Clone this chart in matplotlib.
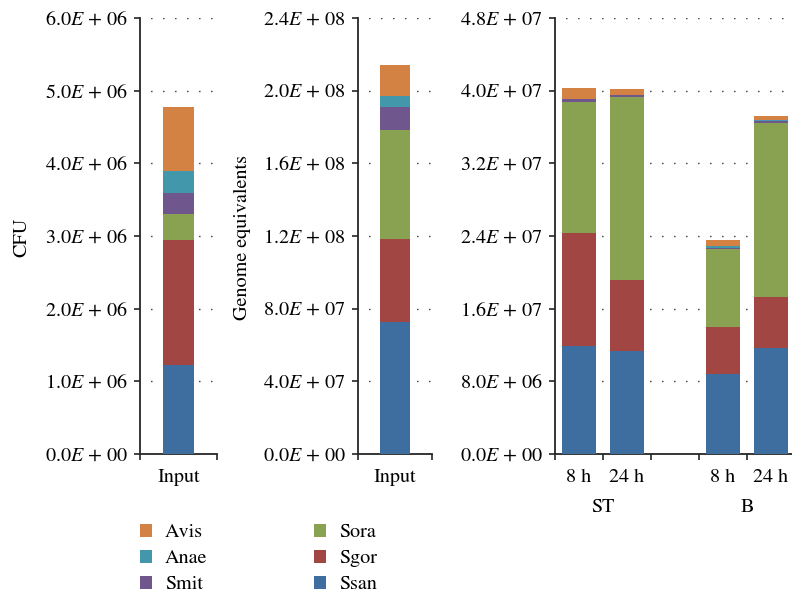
import numpy as np
import matplotlib
matplotlib.use("Agg")
import matplotlib.pyplot as plt
import matplotlib.transforms as mtransforms
from matplotlib.patches import Patch

plt.rcParams['font.family'] = 'STIXGeneral'
plt.rcParams['mathtext.fontset'] = 'stix'
FS = 14.5
plt.rcParams['font.size'] = FS

# species, bottom to top of each stack
species = ['Ssan', 'Sgor', 'Sora', 'Smit', 'Anae', 'Avis']
colors = {'Ssan': '#3D6E9F', 'Sgor': '#A24644', 'Sora': '#88A252',
          'Smit': '#6F568C', 'Anae': '#4297AA', 'Avis': '#D38244'}

# panel 1: CFU of the input
cfu_input = [1.23e6, 1.72e6, 0.35e6, 0.29e6, 0.31e6, 0.87e6]

# panel 2: genome equivalents of the input
ge_input = [7.27e7, 4.58e7, 5.98e7, 1.29e7, 0.59e7, 1.70e7]

# panel 3: genome equivalents, ST 8h, ST 24h, (gap), B 8h, B 24h
time_labels = ['8 h', '24 h', '', '8 h', '24 h']
ge_ssan = [11.90e6, 11.38e6, 0, 8.85e6, 11.67e6]
ge_sgor = [12.41e6, 7.76e6, 0, 5.13e6, 5.58e6]
ge_sora = [14.41e6, 20.13e6, 0, 8.55e6, 19.24e6]
ge_smit = [0.33e6, 0.22e6, 0, 0.19e6, 0.19e6]
ge_anae = [0.08e6, 0.08e6, 0, 0.14e6, 0.04e6]
ge_avis = [1.21e6, 0.66e6, 0, 0.74e6, 0.54e6]
group_labels = ['ST', 'B']

W, H = 792, 601
fig = plt.figure(figsize=(W / 100, H / 100), dpi=100)


def make_axes(x0, x1, y0=18, y1=454):
    return fig.add_axes([x0 / W, 1 - y1 / H, (x1 - x0) / W, (y1 - y0) / H])


def sci(v):
    mant, ex = ('%.1E' % v).split('E')
    return '%s$E$ + %s' % (mant, ex[1:])


def style(ax, ymax, step, n, pad):
    ax.set_xlim(0, n)
    ax.set_ylim(0, ymax)
    yt = np.arange(0, ymax + step / 2, step)
    ax.set_yticks(yt)
    ax.set_yticklabels([sci(v) for v in yt])
    ax.set_xticks(np.arange(0, n + 1))
    ax.set_xticklabels([])
    for s in ['top', 'right']:
        ax.spines[s].set_visible(False)
    for s in ['left', 'bottom']:
        ax.spines[s].set_linewidth(1.3)
        ax.spines[s].set_color('#262626')
    ax.tick_params(axis='both', which='major', direction='out', length=4,
                   width=1.2, color='#262626', labelsize=FS, pad=5)
    ax.tick_params(axis='x', which='minor', length=0, pad=pad, labelsize=FS)
    ax.set_axisbelow(True)
    ax.grid(axis='y', color='#333333', linewidth=1.0,
            linestyle=(1, (1, 7.64)))


def stack(ax, x, values, width):
    bottom = np.zeros(len(x))
    for sp, v in zip(species, values):
        v = np.asarray(v, dtype=float)
        ax.bar(x, v, width=width, bottom=bottom, color=colors[sp],
               linewidth=0, zorder=3)
        bottom += v


# panel 1
ax1 = make_axes(140, 217)
stack(ax1, [0.5], [[v] for v in cfu_input], 0.40)
style(ax1, 6e6, 1e6, 1, 11)
ax1.set_xticks([0.5], minor=True)
ax1.set_xticklabels(['Input'], minor=True)

# panel 2
ax2 = make_axes(358, 432)
stack(ax2, [0.5], [[v] for v in ge_input], 0.405)
style(ax2, 2.4e8, 4e7, 1, 11)
ax2.set_xticks([0.5], minor=True)
ax2.set_xticklabels(['Input'], minor=True)

# panel 3
ax3 = make_axes(555, 795)
x3 = np.arange(len(time_labels)) + 0.5
stack(ax3, x3, [ge_ssan, ge_sgor, ge_sora, ge_smit, ge_anae, ge_avis], 0.69)
style(ax3, 4.8e7, 8e6, 5, 11)
ax3.set_xticks(x3, minor=True)
ax3.set_xticklabels(time_labels, minor=True)
trans = mtransforms.blended_transform_factory(ax3.transData, fig.transFigure)
for gx, g in zip([1, 4], group_labels):
    ax3.text(gx, 1 - 507 / H, g, transform=trans, ha='center', va='center',
             fontsize=FS)

# y labels
fig.text(22 / W, 1 - 237 / H, 'CFU', rotation=90, ha='center', va='center',
         fontsize=FS)
fig.text(242 / W, 1 - 237 / H, 'Genome equivalents', rotation=90,
         ha='center', va='center', fontsize=FS)

# legend, two columns
col1 = ['Avis', 'Anae', 'Smit']
col2 = ['Sora', 'Sgor', 'Ssan']
for names, xl in [(col1, 140), (col2, 314)]:
    handles = [Patch(facecolor=colors[n], edgecolor='none') for n in names]
    fig.legend(handles, names, loc='upper left',
               bbox_to_anchor=(xl / W, 1 - 524 / H), frameon=False,
               borderpad=0, borderaxespad=0, handlelength=0.6,
               handleheight=0.6, handletextpad=0.65, labelspacing=0.42,
               fontsize=FS)

fig.savefig('out.png', dpi=100)
